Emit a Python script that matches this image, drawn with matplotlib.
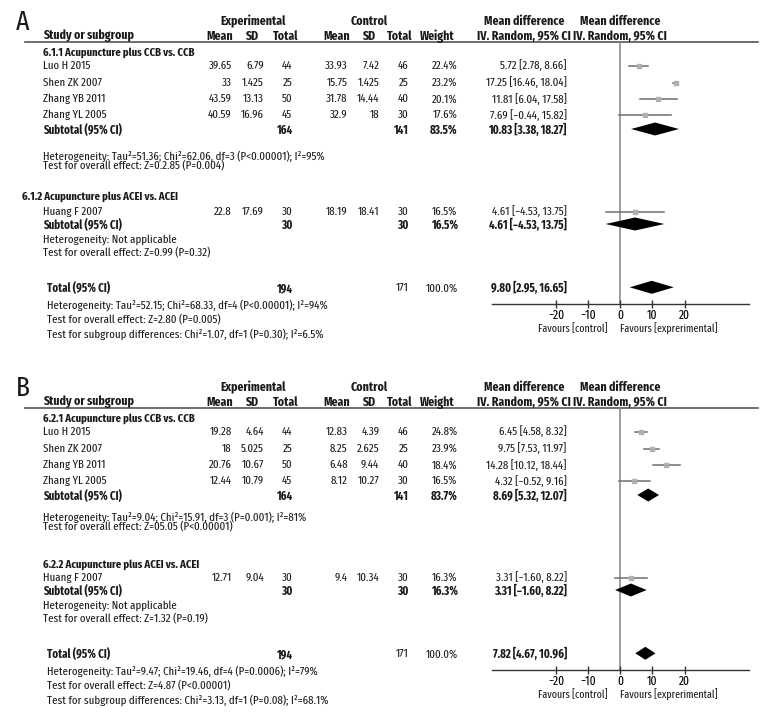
import matplotlib
matplotlib.use("Agg")
import matplotlib.pyplot as plt

plt.rcParams["font.family"] = ["Fira Sans Extra Condensed", "Fira Sans Condensed", "DejaVu Sans"]

# ---------------- data ----------------
STUDIES = ["Luo H 2015", "Shen ZK 2007", "Zhang YB 2011", "Zhang YL 2005", "Huang F 2007"]
TICKS = [-20, -10, 0, 10, 20]
TICK_LABELS = ["\u221220", "\u221210", "0", "10", "20"]

# panel A
A_GROUPS = ["6.1.1 Acupuncture plus CCB vs. CCB", "6.1.2 Acupuncture plus ACEI vs. ACEI"]
A_EXP_MEAN = [39.65, 33, 43.59, 40.59, 22.8]
A_EXP_SD = [6.79, 1.425, 13.13, 16.96, 17.69]
A_EXP_N = [44, 25, 50, 45, 30]
A_CTL_MEAN = [33.93, 15.75, 31.78, 32.9, 18.19]
A_CTL_SD = [7.42, 1.425, 14.44, 18, 18.41]
A_CTL_N = [46, 25, 40, 30, 30]
A_WEIGHT = [22.4, 23.2, 20.1, 17.6, 16.5]
A_MD = [5.72, 17.25, 11.81, 7.69, 4.61]
A_LO = [2.78, 16.46, 6.04, -0.44, -4.53]
A_HI = [8.66, 18.04, 17.58, 15.82, 13.75]
A_SUB_EXP_N = [164, 30]
A_SUB_CTL_N = [141, 30]
A_SUB_WEIGHT = [83.5, 16.5]
A_SUB_MD = [10.83, 4.61]
A_SUB_LO = [3.38, -4.53]
A_SUB_HI = [18.27, 13.75]
A_TOT_N = [194, 171]
A_TOT_CI = [9.80, 2.95, 16.65]
A_SUB_NOTES = [
    ["Heterogeneity: Tau\u00b2=51.36; Chi\u00b2=62.06, df=3 (P<0.00001); I\u00b2=95%",
     "Test for overall effect: Z=0.2.85 (P=0.004)"],
    ["Heterogeneity: Not applicable",
     "Test for overall effect: Z=0.99 (P=0.32)"],
]
A_TOT_NOTES = [
    "Heterogeneity: Tau\u00b2=52.15; Chi\u00b2=68.33, df=4 (P<0.00001); I\u00b2=94%",
    "Test for overall effect: Z=2.80 (P=0.005)",
    "Test for subgroup differences: Chi\u00b2=1.07, df=1 (P=0.30); I\u00b2=6.5%",
]

# panel B
B_GROUPS = ["6.2.1 Acupuncture plus CCB vs. CCB", "6.2.2 Acupuncture plus ACEI vs. ACEI"]
B_EXP_MEAN = [19.28, 18, 20.76, 12.44, 12.71]
B_EXP_SD = [4.64, 5.025, 10.67, 10.79, 9.04]
B_EXP_N = [44, 25, 50, 45, 30]
B_CTL_MEAN = [12.83, 8.25, 6.48, 8.12, 9.4]
B_CTL_SD = [4.39, 2.625, 9.44, 10.27, 10.34]
B_CTL_N = [46, 25, 40, 30, 30]
B_WEIGHT = [24.8, 23.9, 18.4, 16.5, 16.3]
B_MD = [6.45, 9.75, 14.28, 4.32, 3.31]
B_LO = [4.58, 7.53, 10.12, -0.52, -1.60]
B_HI = [8.32, 11.97, 18.44, 9.16, 8.22]
B_SUB_EXP_N = [164, 30]
B_SUB_CTL_N = [141, 30]
B_SUB_WEIGHT = [83.7, 16.3]
B_SUB_MD = [8.69, 3.31]
B_SUB_LO = [5.32, -1.60]
B_SUB_HI = [12.07, 8.22]
B_TOT_N = [194, 171]
B_TOT_CI = [7.82, 4.67, 10.96]
B_SUB_NOTES = [
    ["Heterogeneity: Tau\u00b2=9.04; Chi\u00b2=15.91, df=3 (P=0.001); I\u00b2=81%",
     "Test for overall effect: Z=05.05 (P<0.00001)"],
    ["Heterogeneity: Not applicable",
     "Test for overall effect: Z=1.32 (P=0.19)"],
]
B_TOT_NOTES = [
    "Heterogeneity: Tau\u00b2=9.47; Chi\u00b2=19.46, df=4 (P=0.0006); I\u00b2=79%",
    "Test for overall effect: Z=4.87 (P<0.00001)",
    "Test for subgroup differences: Chi\u00b2=3.13, df=1 (P=0.08); I\u00b2=68.1%",
]

PANELS = [
    dict(label="A", off=0, groups=A_GROUPS, exp_mean=A_EXP_MEAN, exp_sd=A_EXP_SD, exp_n=A_EXP_N,
         ctl_mean=A_CTL_MEAN, ctl_sd=A_CTL_SD, ctl_n=A_CTL_N, weight=A_WEIGHT,
         md=A_MD, lo=A_LO, hi=A_HI, sub_exp_n=A_SUB_EXP_N, sub_ctl_n=A_SUB_CTL_N,
         sub_weight=A_SUB_WEIGHT, sub_md=A_SUB_MD, sub_lo=A_SUB_LO, sub_hi=A_SUB_HI,
         tot_n=A_TOT_N, tot_ci=A_TOT_CI, sub_notes=A_SUB_NOTES, tot_notes=A_TOT_NOTES,
         g2_x=21.7, notes1_y=[155.7, 166.5], g2_y=196.7),
    dict(label="B", off=366, groups=B_GROUPS, exp_mean=B_EXP_MEAN, exp_sd=B_EXP_SD, exp_n=B_EXP_N,
         ctl_mean=B_CTL_MEAN, ctl_sd=B_CTL_SD, ctl_n=B_CTL_N, weight=B_WEIGHT,
         md=B_MD, lo=B_LO, hi=B_HI, sub_exp_n=B_SUB_EXP_N, sub_ctl_n=B_SUB_CTL_N,
         sub_weight=B_SUB_WEIGHT, sub_md=B_SUB_MD, sub_lo=B_SUB_LO, sub_hi=B_SUB_HI,
         tot_n=B_TOT_N, tot_ci=B_TOT_CI, sub_notes=B_SUB_NOTES, tot_notes=B_TOT_NOTES,
         g2_x=43, notes1_y=[151, 161.5], g2_y=199),
]

# ---------------- layout (pixels, panel-relative y) ----------------
W, H = 780, 720
FS = 8.5
FS_HEAD = 9.2
FS_TITLE = 8.3
X_NAME = 43
X_TOT = 46.7
COLS = dict(exp_mean=231.7, exp_sd=264, exp_n=292.3, ctl_mean=347.7, ctl_sd=379.3,
            ctl_n=408.3, weight=457.7, ci=566.7)
Y_STUDY = [65.7, 82.7, 99.3, 115, 211.7]
Y_SUB = [130, 225]
Y_NOTES2 = [240, 252.7]
Y_TOTAL = 288.3
Y_TOT_NOTES = [305, 320, 334]
Y_RULE = 41.7
Y_AXIS = 304
PLOT_L, PLOT_R = 491.7, 748.8
XLIM = (-40, 40)

LINE_C = "#6e6e6e"
MARK_C = "#b0b0b0"
ZERO_C = "#8c8c8c"


def fmt(v):
    return f"{v:g}"


def ci_text(m, lo, hi):
    return f"{m:.2f} [{lo:.2f}, {hi:.2f}]".replace("-", "\u2212")


fig = plt.figure(figsize=(W / 100, H / 100), dpi=100)
bg = fig.add_axes([0, 0, 1, 1])
bg.set_xlim(0, W)
bg.set_ylim(H, 0)
bg.axis("off")


def put(x, y, s, ha="left", bold=False, size=FS):
    bg.text(x, y, s, ha=ha, va="center", fontsize=size,
            fontweight="bold" if bold else "normal", color="#1a1a1a")


for p in PANELS:
    o = p["off"]
    put(16, o + 22, p["label"], size=20)

    # headers
    put(253, o + 21.7, "Experimental", ha="center", bold=True, size=FS_HEAD)
    put(369, o + 21.7, "Control", ha="center", bold=True, size=FS_HEAD)
    put(524, o + 21.7, "Mean difference", ha="center", bold=True, size=FS_HEAD)
    put(620, o + 21.7, "Mean difference", ha="center", bold=True, size=FS_HEAD)
    put(X_NAME, o + 36, "Study or subgroup", bold=True, size=FS_HEAD)
    for x, s in [(220, "Mean"), (252, "SD"), (286, "Total"), (337, "Mean"), (369, "SD"),
                 (400, "Total"), (437, "Weight"), (524, "IV. Random, 95% CI"),
                 (620, "IV. Random, 95% CI")]:
        put(x, o + 36, s, ha="center", bold=True, size=FS_HEAD)
    bg.plot([25, 758], [o + Y_RULE, o + Y_RULE], color="#555555", lw=1.2)

    # subgroup titles
    put(X_NAME, o + 52.7, p["groups"][0], bold=True, size=FS_TITLE)
    put(p["g2_x"], o + p["g2_y"], p["groups"][1], bold=True, size=FS_TITLE)

    # study rows
    for i, name in enumerate(STUDIES):
        y = o + Y_STUDY[i]
        put(X_NAME, y, name)
        for key in ["exp_mean", "exp_sd", "exp_n", "ctl_mean", "ctl_sd", "ctl_n"]:
            put(COLS[key], y, fmt(p[key][i]), ha="right")
        put(COLS["weight"], y, f"{p['weight'][i]:.1f}%", ha="right")
        put(COLS["ci"], y, ci_text(p["md"][i], p["lo"][i], p["hi"][i]), ha="right")

    # subtotals
    for g in range(2):
        y = o + Y_SUB[g]
        put(X_NAME, y, "Subtotal (95% CI)", bold=True)
        put(COLS["exp_n"], y, str(p["sub_exp_n"][g]), ha="right", bold=True)
        put(COLS["ctl_n"], y, str(p["sub_ctl_n"][g]), ha="right", bold=True)
        put(COLS["weight"], y, f"{p['sub_weight'][g]:.1f}%", ha="right", bold=True)
        put(COLS["ci"], y, ci_text(p["sub_md"][g], p["sub_lo"][g], p["sub_hi"][g]),
            ha="right", bold=True)
    for s, y in zip(p["sub_notes"][0], p["notes1_y"]):
        put(X_NAME, o + y, s)
    for s, y in zip(p["sub_notes"][1], Y_NOTES2):
        put(X_NAME, o + y, s)

    # total
    y = o + Y_TOTAL
    put(X_TOT, y, "Total (95% CI)", bold=True)
    put(COLS["exp_n"], y, str(p["tot_n"][0]), ha="right", bold=True)
    put(COLS["ctl_n"], y, str(p["tot_n"][1]), ha="right")
    put(COLS["weight"], y, "100.0%", ha="right")
    put(COLS["ci"], y, ci_text(*p["tot_ci"]), ha="right", bold=True)
    for s, yy in zip(p["tot_notes"], Y_TOT_NOTES):
        put(X_TOT, o + yy, s)

    put(607.5, o + 329, "Favours [control]", ha="right", size=7.8)
    put(619.5, o + 329, "Favours [exprerimental]", ha="left", size=7.8)

    # forest plot axes
    fax = fig.add_axes([PLOT_L / W, 1 - (o + Y_AXIS) / H,
                        (PLOT_R - PLOT_L) / W, (Y_AXIS - Y_RULE) / H])
    fax.set_xlim(*XLIM)
    fax.set_ylim(Y_AXIS, Y_RULE)
    fax.patch.set_alpha(0)
    for side in ["top", "left", "right"]:
        fax.spines[side].set_visible(False)
    fax.spines["bottom"].set_color("#333333")
    fax.spines["bottom"].set_linewidth(1.0)
    fax.set_yticks([])
    fax.set_xticks(TICKS)
    fax.set_xticklabels(TICK_LABELS, fontsize=9)
    fax.tick_params(axis="x", direction="inout", length=6, width=1.0, color="#333333", pad=1)
    fax.axvline(0, color=ZERO_C, lw=1.2, zorder=1)

    for i in range(len(STUDIES)):
        y = Y_STUDY[i]
        fax.plot([p["lo"][i], p["hi"][i]], [y, y], color=LINE_C, lw=1.1, zorder=2)
        fax.plot(p["md"][i], y, "s", color=MARK_C, ms=3.4, mec=MARK_C, zorder=3)

    dh = 6.5
    for g in range(2):
        yc = Y_SUB[g] - 1
        fax.fill([p["sub_lo"][g], p["sub_md"][g], p["sub_hi"][g], p["sub_md"][g]],
                 [yc, yc - dh, yc, yc + dh], color="black", lw=0, zorder=3)
    m, lo, hi = p["tot_ci"]
    yc = Y_TOTAL - 1
    fax.fill([lo, m, hi, m], [yc, yc - dh, yc, yc + dh], color="black", lw=0, zorder=3)

fig.savefig("out.png", dpi=100, facecolor="white")
